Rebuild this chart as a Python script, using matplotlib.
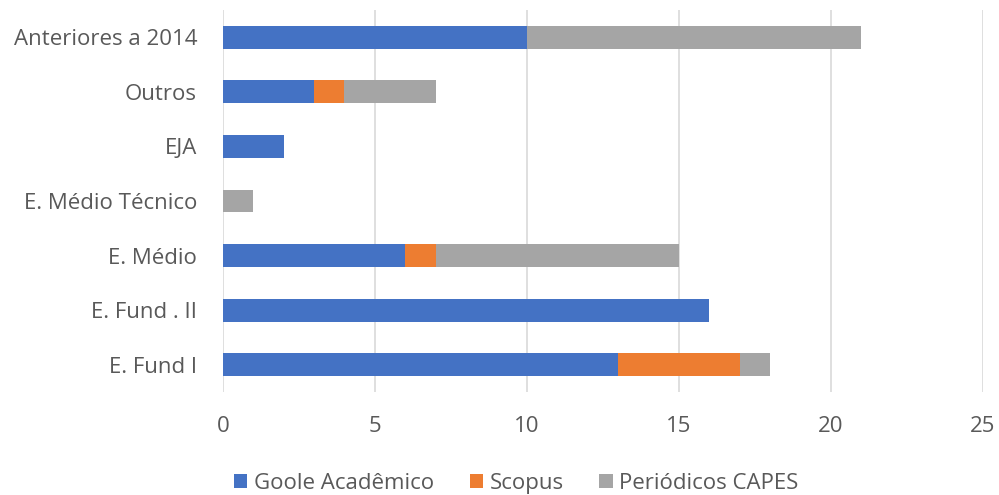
import matplotlib
matplotlib.use("Agg")
import matplotlib.pyplot as plt
import numpy as np

plt.rcParams['font.family'] = ['Open Sans', 'DejaVu Sans']

categories = ["E. Fund I", "E. Fund . II", "E. Médio", "E. Médio Técnico", "EJA", "Outros", "Anteriores a 2014"]
google = [13, 16, 6, 0, 2, 3, 10]
scopus = [4, 0, 1, 0, 0, 1, 0]
capes = [1, 0, 8, 1, 0, 3, 11]
series_names = ["Goole Acadêmico", "Scopus", "Periódicos CAPES"]
colors = ["#4472C4", "#ED7D31", "#A5A5A5"]
xticks = [0, 5, 10, 15, 20, 25]

fig = plt.figure(figsize=(9.99, 4.95), dpi=100)
ax = fig.add_axes([0.223, 0.208, 0.761, 0.772])

y = np.arange(len(categories))
g = np.array(google); s = np.array(scopus); c = np.array(capes)
h = 0.42
ax.barh(y, g, height=h, color=colors[0], label=series_names[0], zorder=3)
ax.barh(y, s, left=g, height=h, color=colors[1], label=series_names[1], zorder=3)
ax.barh(y, c, left=g + s, height=h, color=colors[2], label=series_names[2], zorder=3)

ax.set_xlim(0, 25)
ax.set_ylim(-0.5, len(categories) - 0.5)
ax.set_xticks(xticks)
ax.set_yticks(y)
ax.set_yticklabels(categories)
for sp in ax.spines.values():
    sp.set_visible(False)
ax.grid(axis='x', color='#D9D9D9', linewidth=1.2, zorder=0)
ax.tick_params(axis='both', length=0, labelsize=16, colors='#595959')
ax.tick_params(axis='x', pad=17.5)
ax.tick_params(axis='y', pad=18.5)

fig.legend(loc='center', bbox_to_anchor=(0.517, 0.024), ncol=3, frameon=False,
           fontsize=16, labelcolor='#595959', handlelength=0.6, handleheight=0.6,
           handletextpad=0.3, columnspacing=1.6)

fig.savefig("out.png", dpi=100)
